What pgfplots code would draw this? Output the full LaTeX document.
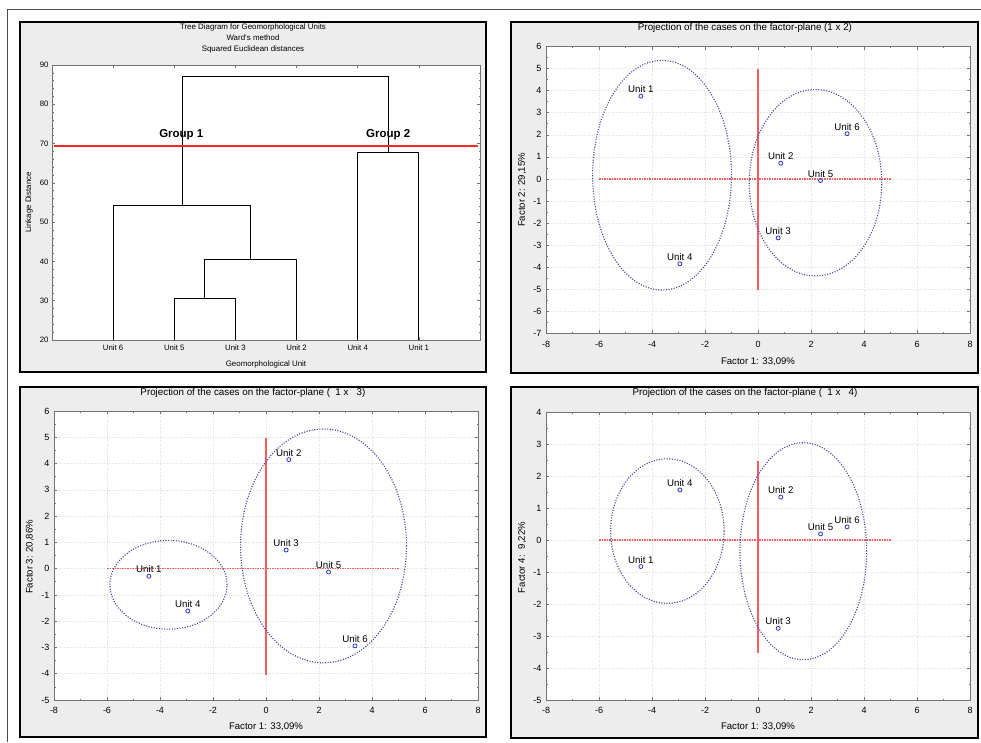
\documentclass[border=0pt]{standalone}
\usepackage{pgfplots}
\pgfplotsset{compat=1.18}
\usepackage{pgfplotstable}
\usepackage{fontspec}
\setmainfont{Liberation Sans}

\definecolor{panelbg}{HTML}{EDEDED}
\definecolor{elblue}{HTML}{4545B0}
\definecolor{ptblue}{HTML}{3030E0}
\definecolor{crossred}{HTML}{FF5A5A}

\pgfplotstableread{
name f1 f2 f3 f4
{Unit 1} -4.42 3.75 -0.29 -0.83
{Unit 2} 0.86 0.71 4.15 1.34
{Unit 3} 0.76 -2.67 0.71 -2.76
{Unit 4} -2.95 -3.84 -1.61 1.565
{Unit 5} 2.36 -0.07 -0.13 0.19
{Unit 6} 3.36 2.05 -2.94 0.41
}\scores

\tikzset{ell/.style={elblue, line width=1.1pt, dash pattern=on 1.1pt off 1.5pt}}

\pgfplotsset{
  panel/.style={
    scale only axis, anchor=south west,
    axis background/.style={fill=white},
    axis line style={draw=black!55, line width=0.8pt},
    tick align=inside, tick pos=both,
    major tick length=3pt, minor tick length=1.5pt,
    every tick/.style={black!55, line width=0.6pt},
    tick label style={font=\fontsize{9}{10}\selectfont, text=black},
    /pgf/number format/assume math mode=true,
    label style={font=\fontsize{9.6}{11}\selectfont, anchor=center},
    title style={font=\fontsize{9.8}{11}\selectfont, anchor=center},
  },
  scat/.style={
    panel, width=424pt,
    xmin=-8, xmax=8, xtick={-8,-6,...,8}, minor x tick num=1, minor y tick num=1,
    grid=major, grid style={black!13, dotted, line width=0.6pt},
    xticklabel style={yshift=-4pt}, yticklabel style={xshift=-1pt},
    xlabel={Factor 1: 33,09\%},
  },
  vline/.style={crossred, line width=1.1pt},
  hline/.style={crossred, line width=1.3pt, dash pattern=on 1.5pt off 1pt},
  pts/.style={only marks, mark=o, mark size=2pt, ptblue, mark options={line width=0.8pt},
    nodes near coords, point meta=explicit symbolic,
    every node near coord/.append style={anchor=south, inner sep=0pt, yshift=3pt, text=black, font=\fontsize{9.7}{11}\selectfont}},
}

\begin{document}
\begin{tikzpicture}[x=1pt,y=1pt]
\useasboundingbox (0,0) rectangle (981,742);
\fill[white] (0,0) rectangle (981,742);
\draw[black!70, line width=0.8pt] (7,0) -- (7,733) -- (981,733);
\foreach \a/\b/\c/\d in {20/370/486/720, 511/369/978/720, 20/5/486/355, 511/4/978/355}
  \draw[fill=panelbg, line width=1.6pt] (\a,\b) rectangle (\c,\d);

% Panel 1: dendrogram
\begin{axis}[panel, at={(52pt,402pt)}, width=428pt, height=275pt,
  xmin=0, xmax=7, ymin=20, ymax=90,
  xtick={1,...,6}, xticklabels={Unit 6,Unit 5,Unit 3,Unit 2,Unit 4,Unit 1},
  ytick={20,30,...,90}, minor y tick num=4,
  tick label style={font=\fontsize{7.8}{9}\selectfont},
  xticklabel style={yshift=-1pt},
  title={Tree Diagram for Geomorphological Units\\Ward`s method\\Squared Euclidean distances},
  title style={align=center, font=\fontsize{7.9}{11}\selectfont, at={(axis description cs:0.4696,1.0764)}},
  xlabel={Geomorphological Unit}, xlabel style={font=\fontsize{7.9}{9}\selectfont, at={(axis description cs:0.5,-0.0873)}},
  ylabel={Linkage Distance}, ylabel style={font=\fontsize{7.9}{9}\selectfont, at={(axis description cs:-0.0537,0.5)}},
]
\addplot[black, line width=0.8pt] coordinates {(2,20) (2,30.6) (3,30.6) (3,20)};
\addplot[black, line width=0.8pt] coordinates {(2.5,30.6) (2.5,40.56) (4,40.56) (4,20)};
\addplot[black, line width=0.8pt] coordinates {(1,20) (1,54.3) (3.25,54.3) (3.25,40.56)};
\addplot[black, line width=0.8pt] coordinates {(5,20) (5,67.8) (6,67.8) (6,20)};
\addplot[black, line width=0.8pt] coordinates {(2.125,54.3) (2.125,87.2) (5.5,87.2) (5.5,67.8)};
\addplot[red!85!white, line width=2pt] coordinates {(0.03,69.5) (6.97,69.5)};
\node[font=\bfseries\fontsize{11.5}{13}\selectfont] at (axis cs:2.115,72.3) {Group 1};
\node[font=\bfseries\fontsize{11.5}{13}\selectfont] at (axis cs:5.5,72.2) {Group 2};
\end{axis}

% Panel 2: 1 x 2
\begin{axis}[scat, at={(546pt,408.5pt)}, height=287pt,
  ymin=-7, ymax=6, ytick={-7,...,6},
  title={Projection of the cases on the factor-plane (1 x 2)},
  title style={at={(axis description cs:0.4693,1.0453)}},
  xlabel style={at={(axis description cs:0.5,-0.0976)}},
  ylabel={Factor 2: 29,15\%}, ylabel style={at={(axis description cs:-0.0566,0.5)}},
]
\addplot[hline] coordinates {(-6,0) (5,0)};
\addplot[vline] coordinates {(0,5) (0,-5.05)};
\draw[ell] (axis cs:-3.62,0.17) ellipse [x radius=2.62, y radius=5.2];
\draw[ell] (axis cs:2.17,-0.17) ellipse [x radius=2.5, y radius=4.22];
\addplot[pts] table[x=f1, y=f2, meta=name] {\scores};
\end{axis}

% Panel 3: 1 x 3
\begin{axis}[scat, at={(54pt,42pt)}, height=289pt,
  ymin=-5, ymax=6, ytick={-5,...,6},
  title={Projection of the cases on the factor-plane (\ \ 1 x \ \ 3)},
  title style={at={(axis description cs:0.4693,1.0415)}},
  xlabel style={at={(axis description cs:0.5,-0.0934)}},
  ylabel={Factor 3: 20,86\%}, ylabel style={at={(axis description cs:-0.0566,0.495)}},
]
\addplot[hline] coordinates {(-6,0) (5,0)};
\addplot[vline] coordinates {(0,4.96) (0,-4.05)};
\draw[ell] (axis cs:-3.68,-0.615) ellipse [x radius=2.21, y radius=1.69];
\draw[ell] (axis cs:2.17,0.865) ellipse [x radius=3.13, y radius=4.45];
\addplot[pts] table[x=f1, y=f3, meta=name] {\scores};
\end{axis}

% Panel 4: 1 x 4
\begin{axis}[scat, at={(546pt,42pt)}, height=288pt,
  ymin=-5, ymax=4, ytick={-5,...,4},
  title={Projection of the cases on the factor-plane (\ \ 1 x \ \ 4)},
  title style={at={(axis description cs:0.4693,1.0451)}},
  xlabel style={at={(axis description cs:0.5,-0.09375)}},
  ylabel={Factor 4: \ 9,22\%}, ylabel style={at={(axis description cs:-0.0566,0.495)}},
]
\addplot[hline] coordinates {(-6,0) (5,0)};
\addplot[vline] coordinates {(0,2.46) (0,-3.54)};
\draw[ell] (axis cs:-3.42,0.28) ellipse [x radius=2.14, y radius=2.26];
\draw[ell] (axis cs:1.71,-0.35) ellipse [x radius=2.39, y radius=3.39];
\addplot[pts] table[x=f1, y=f4, meta=name] {\scores};
\end{axis}
\end{tikzpicture}
\end{document}
